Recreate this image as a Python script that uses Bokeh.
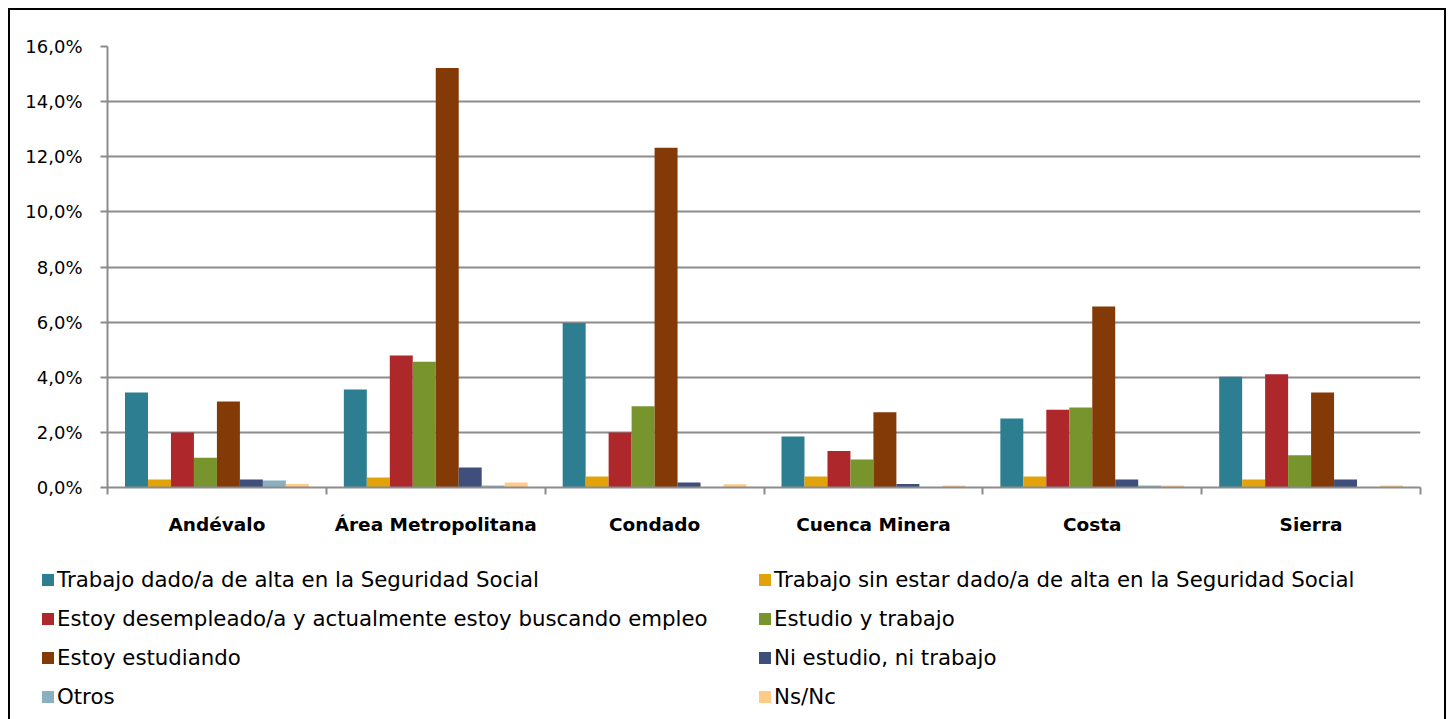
from bokeh.plotting import figure
from bokeh.layouts import column
from bokeh.models import FixedTicker, Legend, LegendItem, ColumnDataSource, Range1d
from bokeh.embed import file_html
from bokeh.resources import INLINE
from bokeh.transform import dodge

categories = ["Andévalo", "Área Metropolitana", "Condado", "Cuenca Minera", "Costa", "Sierra"]

series_names = [
    "Trabajo dado/a de alta en la Seguridad Social",
    "Trabajo sin estar dado/a de alta en la Seguridad Social",
    "Estoy desempleado/a y actualmente estoy buscando empleo",
    "Estudio y trabajo",
    "Estoy estudiando",
    "Ni estudio, ni trabajo",
    "Otros",
    "Ns/Nc",
]

trabajo_alta = [3.45, 3.56, 5.97, 1.85, 2.50, 4.02]
trabajo_sin_alta = [0.29, 0.36, 0.40, 0.40, 0.40, 0.29]
desempleado = [2.00, 4.79, 2.00, 1.32, 2.82, 4.11]
estudio_trabajo = [1.08, 4.56, 2.95, 1.02, 2.90, 1.17]
estudiando = [3.12, 15.22, 12.33, 2.73, 6.57, 3.45]
ni_estudio = [0.29, 0.73, 0.18, 0.13, 0.29, 0.29]
otros = [0.25, 0.07, 0.00, 0.00, 0.07, 0.00]
ns_nc = [0.13, 0.18, 0.12, 0.07, 0.07, 0.07]

series_values = [trabajo_alta, trabajo_sin_alta, desempleado, estudio_trabajo,
                 estudiando, ni_estudio, otros, ns_nc]
colors = ["#2E7E92", "#E2A20A", "#AD272B", "#77952C", "#833A06", "#3E4F7B", "#8AAFBF", "#FFCB88"]

y_ticks = [0, 2, 4, 6, 8, 10, 12, 14, 16]

FONT = "DejaVu Sans"
GRAY = "#8c8c8c"

# ---------------- chart ----------------
p = figure(width=1434, height=545, output_backend="svg", toolbar_location=None,
           x_range=Range1d(0, len(categories)), y_range=Range1d(0, 16),
           min_border_left=97, min_border_right=24, min_border_top=36, min_border_bottom=68)
p.outline_line_color = None
p.background_fill_color = "white"
p.border_fill_color = "white"
p.frame_align = False

centers = [i + 0.5 for i in range(len(categories))]
bounds = [float(i) for i in range(len(categories) + 1)]

bar_w = 0.105
n = len(series_names)
sources = []
for j, (name, vals, col) in enumerate(zip(series_names, series_values, colors)):
    src = ColumnDataSource(data=dict(x=centers, top=vals))
    sources.append(src)
    p.vbar(x=dodge("x", (j - (n - 1) / 2) * bar_w), top="top", width=bar_w,
           bottom=0, source=src, fill_color=col, line_color=None)

xa = p.xaxis[0]
xa.ticker = FixedTicker(ticks=centers, minor_ticks=bounds)
xa.major_label_overrides = {c: name for c, name in zip(centers, categories)}
xa.major_tick_out = 0
xa.major_tick_in = 0
xa.minor_tick_out = 7
xa.minor_tick_in = 0
xa.minor_tick_line_color = GRAY
xa.minor_tick_line_width = 2
xa.axis_line_color = GRAY
xa.axis_line_width = 2
xa.major_label_text_font = FONT
xa.major_label_text_font_style = "bold"
xa.major_label_text_font_size = "18.5px"
xa.major_label_text_color = "black"
xa.major_label_standoff = 19

ya = p.yaxis[0]
ya.ticker = FixedTicker(ticks=y_ticks, minor_ticks=[])
ya.major_label_overrides = {t: f"{t:.1f}%".replace(".", ",") for t in y_ticks}
ya.major_tick_out = 7
ya.major_tick_in = 0
ya.major_tick_line_color = GRAY
ya.major_tick_line_width = 2
ya.axis_line_color = GRAY
ya.axis_line_width = 2
ya.major_label_text_font = FONT
ya.major_label_text_font_size = "18px"
ya.major_label_text_color = "black"
ya.major_label_standoff = 18

p.xgrid.visible = False
p.ygrid.grid_line_color = GRAY
p.ygrid.grid_line_width = 2
p.ygrid.ticker = FixedTicker(ticks=y_ticks[1:])

# ---------------- legend panel ----------------
# its view range lies outside the data, so only the legend shows
pl = figure(width=1434, height=164, output_backend="svg", toolbar_location=None,
            x_axis_location=None, y_axis_location=None, min_border=0,
            min_border_left=0, min_border_right=0, min_border_top=0, min_border_bottom=0,
            x_range=Range1d(-2, -1), y_range=Range1d(-2, -1))
pl.outline_line_color = None
pl.xgrid.visible = False
pl.ygrid.visible = False
pl.border_fill_color = "white"
pl.background_fill_color = "white"
pl.frame_align = False

items = []
for name, col, src in zip(series_names, colors, sources):
    r = pl.vbar(x="x", top="top", width=bar_w, bottom=0, source=src,
                fill_color=col, line_color=None)
    items.append(LegendItem(label=name, renderers=[r]))

legend = Legend(items=items, orientation="horizontal", ncols=2,
                location=(30, 3), padding=0, margin=0, spacing=0,
                glyph_width=15, glyph_height=15, label_standoff=2,
                label_width=700, label_height=39,
                label_text_font=FONT, label_text_font_size="21.3px",
                label_text_color="black", border_line_color=None,
                background_fill_alpha=0)
pl.add_layout(legend, "center")

layout = column(p, pl, spacing=0,
                styles={"margin-left": "8px", "margin-top": "8px",
                        "border-left": "2px solid black", "border-top": "2px solid black",
                        "border-right": "2px solid black"})

open("out.html", "w").write(file_html(layout, INLINE))
